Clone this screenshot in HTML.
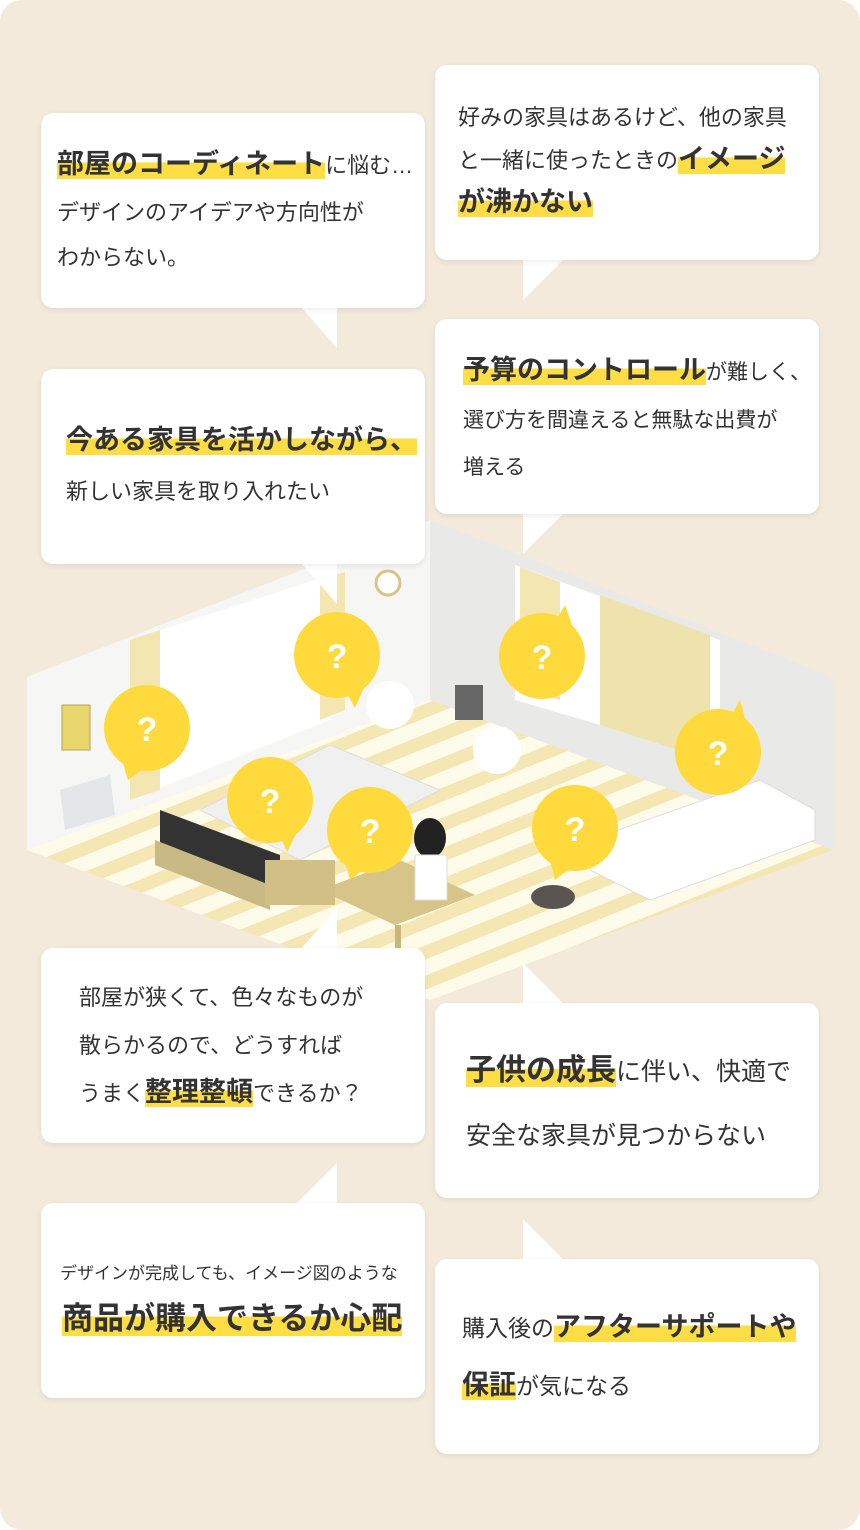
<!DOCTYPE html>
<html><head><meta charset="utf-8">
<style>
*{margin:0;padding:0;box-sizing:border-box}
body{width:860px;height:1530px;background:#fff;font-family:"Liberation Sans","Noto Sans CJK JP",sans-serif;color:#333;position:relative;overflow:hidden}
.bg{position:absolute;left:0;top:0;width:860px;height:1530px;background:#f3eadb;border-radius:22px}
.b{position:absolute;width:384px;height:195px;background:#fff;border-radius:12px;box-shadow:0 2px 6px rgba(0,0,0,.08)}
.t{position:absolute;white-space:nowrap;font-size:22px;line-height:1}
.h{font-weight:bold;font-size:27px;background:linear-gradient(transparent 45%,#ffdd44 45%)}
svg{position:absolute;left:0;top:0}
</style></head><body>
<div class="bg"></div>
<svg width="860" height="1530">
<defs>
<pattern id="st" width="28" height="28" patternUnits="userSpaceOnUse" patternTransform="rotate(-22)">
<rect width="28" height="28" fill="#fffbea"/><rect width="28" height="13" fill="#f4e7b4"/></pattern>
</defs>
<polygon points="27,677 430,520 430,700 27,850" fill="#f6f6f4"/>
<polygon points="430,520 833,677 833,850 430,700" fill="#e9e9e7"/>
<polygon points="27,850 430,700 833,850 430,1000" fill="url(#st)"/>
<polygon points="130,640 330,575 330,720 130,800" fill="#fff"/>
<polygon points="130,640 160,630 160,790 130,800" fill="#f3e6b0"/>
<polygon points="320,580 345,572 345,710 320,720" fill="#f3e6b0"/>
<polygon points="515,565 720,640 720,760 515,700" fill="#fff"/>
<polygon points="520,567 560,582 560,700 520,690" fill="#f3e6b0"/>
<polygon points="600,595 710,635 710,760 600,725" fill="#efe3ad"/>
<polygon points="200,810 330,745 440,790 300,860" fill="#f0f0f0" stroke="#ddd"/>
<polygon points="160,810 280,855 280,890 160,845" fill="#333"/>
<polygon points="155,840 270,885 270,910 155,865" fill="#c9b985"/>
<polygon points="590,840 760,780 815,810 815,840 650,900 590,870" fill="#fff" stroke="#ddd"/>
<polygon points="320,890 400,860 475,895 395,925" fill="#d6c488"/>
<rect x="395" y="925" width="6" height="70" fill="#c9b77a"/>
<rect x="265" y="860" width="70" height="45" fill="#d1bf85"/>
<polygon points="60,790 110,775 115,815 65,830" fill="#e3e7ea"/>
<rect x="62" y="705" width="28" height="45" fill="#e8d56b" stroke="#b9a25b"/>
<circle cx="388" cy="583" r="12" fill="#fff" stroke="#d6c488" stroke-width="3"/>
<ellipse cx="430" cy="838" rx="16" ry="20" fill="#222"/>
<rect x="415" y="855" width="32" height="45" fill="#fff" stroke="#ddd"/>
<ellipse cx="553" cy="897" rx="22" ry="12" fill="#5a5550"/>
<rect x="455" y="685" width="28" height="35" fill="#666"/>
<circle cx="390" cy="705" r="24" fill="#fff"/><circle cx="497" cy="750" r="24" fill="#fff"/>
<g fill="#ffda3c">
<circle cx="147" cy="728" r="43"/><path d="M122,760 L128,780 L145,768Z"/>
<circle cx="270" cy="800" r="43"/><path d="M280,835 L287,852 L298,830Z"/>
<circle cx="337" cy="655" r="43"/><path d="M345,690 L355,708 L365,685Z"/>
<circle cx="370" cy="830" r="43"/><path d="M345,860 L350,880 L365,868Z"/>
<circle cx="542" cy="656" r="43"/><path d="M555,622 L565,605 L572,625Z"/>
<circle cx="575" cy="828" r="43"/><path d="M550,860 L555,880 L570,868Z"/>
<circle cx="718" cy="752" r="43"/><path d="M730,718 L740,700 L746,722Z"/>
</g>
<g fill="#fff" font-weight="bold" font-size="34" text-anchor="middle" font-family="Liberation Sans,sans-serif">
<text x="147" y="741">?</text><text x="270" y="813">?</text><text x="337" y="668">?</text><text x="370" y="843">?</text><text x="542" y="669">?</text><text x="575" y="841">?</text><text x="718" y="765">?</text>
</g>
<g fill="#fff">
<path d="M300,306 L337,306 L337,348Z"/>
<path d="M523,258 L565,258 L523,300Z"/>
<path d="M300,562 L337,562 L337,604Z"/>
<path d="M523,512 L565,512 L523,554Z"/>
<path d="M300,950 L337,950 L337,908Z"/>
<path d="M523,1005 L565,1005 L523,963Z"/>
<path d="M295,1205 L337,1205 L337,1163Z"/>
<path d="M523,1261 L565,1261 L523,1219Z"/>
</g>
</svg>
<div class="b" style="left:41px;top:113px"></div>
<div class="b" style="left:435px;top:65px"></div>
<div class="b" style="left:41px;top:369px"></div>
<div class="b" style="left:435px;top:319px"></div>
<div class="b" style="left:41px;top:948px"></div>
<div class="b" style="left:435px;top:1003px"></div>
<div class="b" style="left:41px;top:1203px"></div>
<div class="b" style="left:435px;top:1259px"></div>

<div class="t" style="left:57px;top:151px"><span class="h">部屋のコーディネート</span>に悩む…</div>
<div class="t" style="left:57px;top:202px">デザインのアイデアや方向性が</div>
<div class="t" style="left:57px;top:247px">わからない。</div>

<div class="t" style="left:458px;top:107px">好みの家具はあるけど、他の家具</div>
<div class="t" style="left:458px;top:146px">と一緒に使ったときの<span class="h">イメージ</span></div>
<div class="t" style="left:458px;top:189px"><span class="h">が沸かない</span></div>

<div class="t" style="left:66px;top:427px"><span class="h">今ある家具を活かしながら、</span></div>
<div class="t" style="left:66px;top:481px">新しい家具を取り入れたい</div>

<div class="t" style="left:463px;top:357px;font-size:21px"><span class="h">予算のコントロール</span>が難しく、</div>
<div class="t" style="left:463px;top:410px;font-size:21px">選び方を間違えると無駄な出費が</div>
<div class="t" style="left:463px;top:457px;font-size:21px">増える</div>

<div class="t" style="left:79px;top:987px">部屋が狭くて、色々なものが</div>
<div class="t" style="left:79px;top:1035px">散らかるので、どうすれば</div>
<div class="t" style="left:79px;top:1079px">うまく<span class="h">整理整頓</span>できるか？</div>

<div class="t" style="left:466px;top:1056px;font-size:25px"><span class="h" style="font-size:30px">子供の成長</span>に伴い、快適で</div>
<div class="t" style="left:466px;top:1124px;font-size:25px">安全な家具が見つからない</div>

<div class="t" style="left:60px;top:1265px;font-size:17px">デザインが完成しても、イメージ図のような</div>
<div class="t" style="left:62px;top:1303px"><span class="h" style="font-size:31px">商品が購入できるか心配</span></div>

<div class="t" style="left:462px;top:1314px;font-size:23px">購入後の<span class="h">アフターサポートや</span></div>
<div class="t" style="left:462px;top:1372px;font-size:23px"><span class="h">保証</span>が気になる</div>
</body></html>
